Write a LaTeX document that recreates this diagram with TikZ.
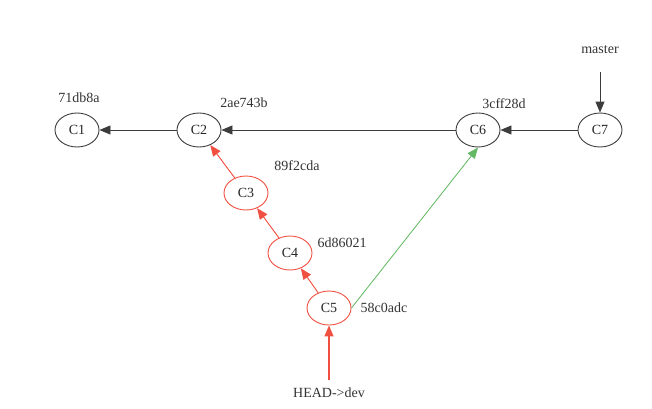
\documentclass[tikz,border=0pt]{standalone}
\usepackage{fontspec}
\setmainfont{Liberation Serif}
\usetikzlibrary{shapes.geometric,arrows.meta}
\definecolor{gline}{RGB}{60,60,60}
\definecolor{rline}{RGB}{240,80,65}
\definecolor{gr}{RGB}{100,185,100}
\begin{document}
\begin{tikzpicture}[x=1pt,y=-1pt,
  commit/.style={ellipse,draw=gline,line width=0.9pt,minimum width=44pt,minimum height=34pt,inner sep=0pt,font=\fontsize{14}{16}\selectfont,text=black!85},
  rcommit/.style={commit,draw=rline},
  lbl/.style={font=\fontsize{14}{16}\selectfont,text=black!80,inner sep=0pt},
  tip/.style={-{Triangle[length=11pt,width=9pt]}},
  blk/.style={tip,draw=gline,line width=0.9pt},
  redarrow/.style={tip,draw=rline,fill=rline,line width=0.9pt},
  grn/.style={tip,draw=gr,fill=gr,line width=0.8pt}]
\useasboundingbox (0,0) rectangle (652,408);
\node[commit] (c1) at (77,130) {C1};
\node[commit] (c2) at (199,130) {C2};
\node[commit] (c6) at (478,130) {C6};
\node[commit] (c7) at (600,130) {C7};
\node[rcommit] (c3) at (246,193) {C3};
\node[rcommit] (c4) at (290,253) {C4};
\node[rcommit] (c5) at (329,308) {C5};
\node[lbl] (h1) at (79,98) {71db8a};
\node[lbl] (h2) at (244,103) {2ae743b};
\node[lbl] (h6) at (504,104) {3cff28d};
\node[lbl] (h3) at (297,166) {89f2cda};
\node[lbl] (h4) at (342,243) {6d86021};
\node[lbl] (h5) at (384,308) {58c0adc};
\node[lbl] (master) at (600,50) {master};
\node[lbl] (head) at (329,393) {HEAD->dev};
\coordinate (mt) at (600,72);
\coordinate (hd) at (329,380);
\draw[blk] (c2) -- (c1);
\draw[blk] (c6) -- (c2);
\draw[blk] (c7) -- (c6);
\draw[blk] (mt) -- (c7);
\draw[redarrow] (c3) -- (c2);
\draw[redarrow] (c4) -- (c3);
\draw[redarrow] (c5) -- (c4);
\draw[redarrow,color=rline,line width=1.2pt] (hd) -- (c5);
\draw[grn] (c5.east) -- (c6.south);
\end{tikzpicture}
\end{document}
